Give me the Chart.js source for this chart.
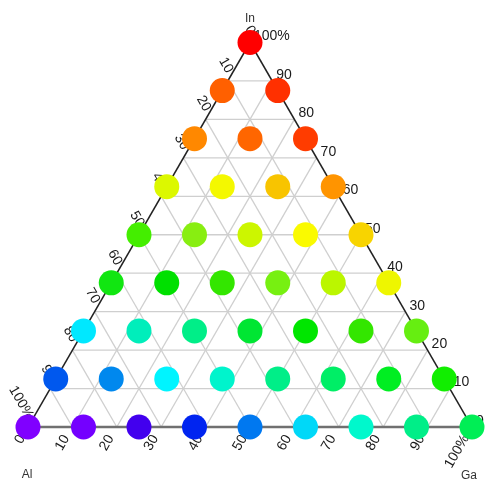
<!DOCTYPE html>
<html>
<head>
<meta charset="utf-8">
<script src="https://cdn.jsdelivr.net/npm/chart.js@4.4.1/dist/chart.umd.min.js"></script>
<style>
  html, body { margin: 0; padding: 0; background: #ffffff; }
  #wrap { width: 486px; height: 479px; }
</style>
</head>
<body>
<div id="wrap"><canvas id="c" width="486" height="479"></canvas></div>
<script>
// Composition of each sample (percent). Al = 100 - In - Ga.
const inPct = [
  0, 0, 0, 0, 0, 0, 0, 0, 0,
  12.5, 12.5, 12.5, 12.5, 12.5, 12.5, 12.5, 12.5,
  25, 25, 25, 25, 25, 25, 25,
  37.5, 37.5, 37.5, 37.5, 37.5, 37.5,
  50, 50, 50, 50, 50,
  62.5, 62.5, 62.5, 62.5,
  75, 75, 75,
  87.5, 87.5,
  100
];
const gaPct = [
  0, 12.5, 25, 37.5, 50, 62.5, 75, 87.5, 100,
  0, 12.5, 25, 37.5, 50, 62.5, 75, 87.5,
  0, 12.5, 25, 37.5, 50, 62.5, 75,
  0, 12.5, 25, 37.5, 50, 62.5,
  0, 12.5, 25, 37.5, 50,
  0, 12.5, 25, 37.5,
  0, 12.5, 25,
  0, 12.5,
  0
];
// Marker colour of each sample
const pointColors = [
  '#8000ff', '#7400ff', '#4200ee', '#0024f0', '#0078f0', '#00d8f8', '#00f8cc', '#00ee88', '#00ee55',
  '#0058ee', '#0088ee', '#00f4ff', '#00f4cc', '#00ee88', '#00ee66', '#00ee22', '#11ee00',
  '#00e8ff', '#00eebb', '#00ee88', '#00e633', '#00e600', '#33e600', '#66ee11',
  '#11e611', '#00e000', '#33e600', '#77f011', '#bbf600', '#eef600',
  '#44ee00', '#88ee11', '#ccf600', '#fafa00', '#f8d400',
  '#dcf800', '#f4f800', '#f8c400', '#ff9400',
  '#ff8800', '#ff6600', '#ff3c00',
  '#ff6000', '#ff3000',
  '#ff0000'
];
// Axis ticks (percent) and corner names
const tickValues = [0, 10, 20, 30, 40, 50, 60, 70, 80, 90, 100];
const cornerNames = { top: 'In', left: 'Al', right: 'Ga' };

const S = Math.sqrt(3) / 2;
const tickLabel = v => (v === 100 ? '100%' : String(v));

const points = inPct.map((inn, i) => ({ x: gaPct[i] + inn / 2, y: inn * S }));

// Draws the triangular frame, grid, tick labels and corner names under the markers
const ternaryFrame = {
  id: 'ternaryFrame',
  beforeDatasetsDraw(chart) {
    const ctx = chart.ctx;
    const xs = chart.scales.x, ys = chart.scales.y;
    const P = (ga, inn) => ({ x: xs.getPixelForValue(ga + inn / 2), y: ys.getPixelForValue(inn * S) });
    const line = (a, b) => { ctx.beginPath(); ctx.moveTo(a.x, a.y); ctx.lineTo(b.x, b.y); ctx.stroke(); };

    ctx.save();
    // grid
    ctx.strokeStyle = '#cfcfcf';
    ctx.lineWidth = 1.3;
    tickValues.filter(v => v > 0 && v < 100).forEach(v => {
      line(P(0, v), P(100 - v, v));           // constant In
      line(P(v, 0), P(v, 100 - v));           // constant Ga
      line(P(100 - v, 0), P(0, 100 - v));     // constant Al
    });
    // edges
    const A = P(0, 0), G = P(100, 0), I = P(0, 100);
    ctx.strokeStyle = '#222222';
    ctx.lineWidth = 1.5;
    line(A, I);
    line(G, I);
    ctx.strokeStyle = '#707070';
    ctx.lineWidth = 2.6;
    line(A, G);

    // tick labels
    ctx.fillStyle = '#1a1a1a';
    ctx.font = '14px "Liberation Sans", Arial, sans-serif';
    tickValues.forEach(v => {
      // In along the right edge
      let p = P(100 - v, v);
      ctx.textAlign = 'left';
      ctx.textBaseline = 'middle';
      ctx.fillText(tickLabel(v), p.x + 4, p.y - 6);

      // Al along the left edge
      p = P(0, 100 - v);
      ctx.save();
      ctx.translate(p.x + 2, p.y - 9);
      ctx.rotate(Math.PI / 3);
      ctx.textAlign = 'right';
      ctx.fillText(tickLabel(v), 0, 0);
      ctx.restore();

      // Ga along the bottom edge
      p = P(v, 0);
      ctx.save();
      ctx.translate(p.x - 6, p.y + 9);
      ctx.rotate(-Math.PI / 3);
      ctx.textAlign = 'right';
      ctx.fillText(tickLabel(v), 0, 0);
      ctx.restore();
    });

    // corner names
    ctx.fillStyle = '#333333';
    ctx.font = '12px "Liberation Sans", Arial, sans-serif';
    ctx.textAlign = 'center';
    ctx.textBaseline = 'middle';
    ctx.fillText(cornerNames.top, I.x, I.y - 24);
    ctx.fillText(cornerNames.left, A.x - 1, A.y + 48);
    ctx.fillText(cornerNames.right, G.x - 3, G.y + 49);
    ctx.restore();
  }
};

new Chart(document.getElementById('c'), {
  type: 'scatter',
  data: {
    datasets: [{
      data: points,
      pointRadius: 12.5,
      pointHoverRadius: 12.5,
      pointBackgroundColor: pointColors,
      pointBorderWidth: 0,
      borderWidth: 0,
      clip: false
    }]
  },
  options: {
    responsive: false,
    animation: false,
    layout: { padding: { left: 28, right: 14, top: 42.5, bottom: 52 } },
    plugins: { legend: { display: false }, tooltip: { enabled: false } },
    scales: {
      x: { type: 'linear', min: 0, max: 100, display: false },
      y: { type: 'linear', min: 0, max: 100 * S, display: false }
    }
  },
  plugins: [ternaryFrame]
});
</script>
</body>
</html>
